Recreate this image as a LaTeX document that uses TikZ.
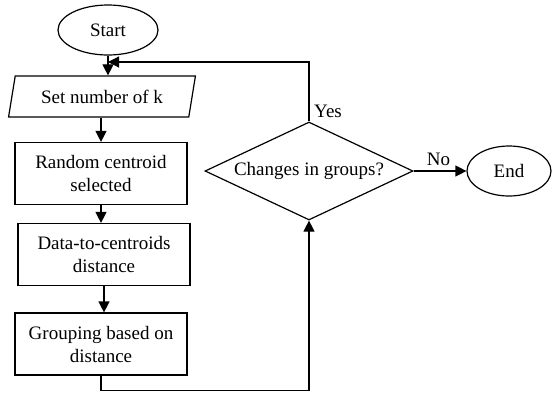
\documentclass[tikz,border=0pt]{standalone}
\usepackage{fontspec}
\setmainfont{Liberation Serif}
\usetikzlibrary{positioning,arrows.meta,shapes.geometric}
\tikzset{
  term/.style={ellipse,draw,line width=1.2pt,inner sep=0pt,minimum width=100pt,minimum height=50pt},
  iobox/.style={trapezium,trapezium left angle=71,trapezium right angle=109,trapezium stretches=true,draw,line width=1.2pt,minimum width=187pt,minimum height=41pt,inner sep=0pt},
  proc/.style={rectangle,draw,line width=1.2pt,minimum width=172pt,minimum height=62pt,inner sep=0pt,align=center},
  dec/.style={diamond,draw,line width=1.2pt,aspect=2.1,minimum width=208pt,minimum height=98pt,inner sep=0pt},
  arr/.style={line width=1.2pt,-{Triangle[length=11pt,width=11pt]}},
  lab/.style={inner sep=1pt},
  every node/.style={font=\fontsize{19}{23}\selectfont}
}
\begin{document}
\begin{tikzpicture}[x=1pt,y=-1pt]
  \useasboundingbox (0,0) rectangle (552,394);
  % flow down the left column
  \node[term] (start) at (108,30) {Start};
  \node[iobox] (setk) at (102,96.5) {Set number of k};
  \node[proc] (rand) at (101,173.5) {Random centroid\\selected};
  \node[proc] (dist) at (104,254.5) {Data-to-centroids\\distance};
  \node[proc] (group) at (101,344) {Grouping based on\\distance};
  \node[dec] (chg) at (309,171) {Changes in groups?};
  \node[term,minimum width=84pt] (stop) at (509,171) {End};
  \coordinate (join) at (108,62);
  \draw[arr] (start.south) -- (start.south |- setk.north);
  \draw[arr] (setk.south -| rand.north) -- (rand.north);
  \draw[arr] (rand.south) -- (rand.south |- dist.north);
  \draw[arr] (dist.south) -- (dist.south |- group.north);
  \draw[arr] (group.south) -- ++(0,15) -| (chg.south);
  % loop back and exit
  \draw[arr] (chg.north) |- (join);
  \node[lab,anchor=south west] (yes) at ([xshift=4pt,yshift=3pt]chg.north) {Yes};
  \draw[arr] (chg.east) -- (stop.west);
  \node[lab,above=4pt of chg.east,xshift=25pt] (no) {No};
\end{tikzpicture}
\end{document}
